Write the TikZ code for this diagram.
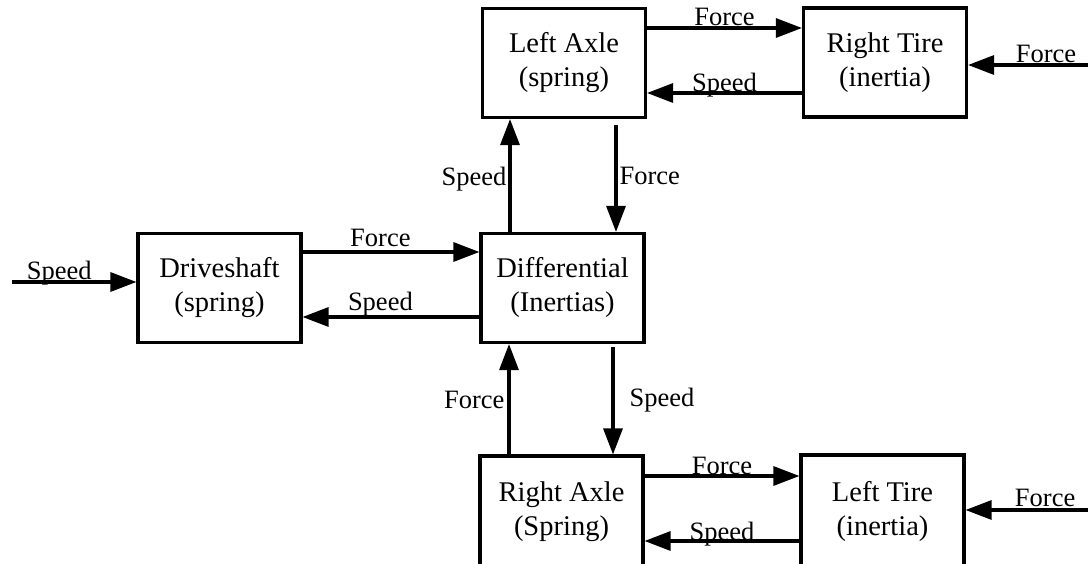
\documentclass[tikz,border=0pt]{standalone}
\usepackage{fontspec}
\setmainfont{Liberation Serif}
\usetikzlibrary{arrows.meta}
\begin{document}
\begin{tikzpicture}[x=1pt,y=-1pt,
  block/.style={draw, line width=3.1pt, minimum width=163pt, minimum height=109pt,
    align=center, inner sep=0pt, font=\fontsize{28.5}{34}\selectfont},
  flow/.style={line width=3.1pt, -{Triangle[length=26pt,width=19pt]}},
  lbl/.style={font=\fontsize{26.5}{30}\selectfont, inner sep=0pt}]
\useasboundingbox (0,0) rectangle (1088,564);
\clip (0,0) rectangle (1088,564);

% blocks
\node[block] (LA) at (564,63)    {Left Axle\\(spring)};
\node[block] (RT) at (885,62.5)  {Right Tire\\(inertia)};
\node[block] (DS) at (219.5,288) {Driveshaft\\(spring)};
\node[block] (DF) at (562.5,288) {Differential\\(Inertias)};
\node[block, minimum height=112pt] (RA) at (561.5,512) {Right Axle\\(Spring)};
\node[block, minimum height=112pt] (LT) at (882.5,511) {Left Tire\\(inertia)};

% free ends of the external inputs
\coordinate (inS) at (12,282);
\coordinate (inRT) at (1088,65);
\coordinate (inLT) at (1088,510);

% driveshaft loop
\draw[flow] (inS) -- node[lbl, anchor=base, pos=0.38, yshift=2pt] {Speed} (DS.west |- inS);
\draw[flow] (DS.east |- 0,252) -- node[lbl, anchor=base, pos=0.44, yshift=5pt] {Force} (DF.west |- 0,252);
\draw[flow] (DF.west |- 0,317) -- node[lbl, anchor=base, pos=0.56, yshift=6pt] {Speed} (DS.east |- 0,317);

% differential <-> left axle
\draw[flow] (DF.north -| 510,0) -- node[lbl, anchor=base east, pos=0.41, xshift=-2pt] {Speed} (LA.south -| 510,0);
\draw[flow] (616,125) -- node[lbl, anchor=base west, pos=0.56, xshift=2pt] {Force} (DF.north -| 616,0);

% differential <-> right axle
\draw[flow] (RA.north -| 509,0) -- node[lbl, anchor=base east, pos=0.42, xshift=-3pt] {Force} (DF.south -| 509,0);
\draw[flow] (613,347) -- node[lbl, anchor=base west, pos=0.55, xshift=15pt] {Speed} (RA.north -| 613,0);

% left axle <-> right tire
\draw[flow] (LA.east |- 0,28) -- node[lbl, anchor=base, yshift=2pt] {Force} (RT.west |- 0,28);
\draw[flow] (RT.west |- 0,93) -- node[lbl, anchor=base, yshift=1pt] {Speed} (LA.east |- 0,93);
\draw[flow] (inRT) -- node[lbl, anchor=base, pos=0.35, yshift=2pt] {Force} (RT.east |- inRT);

% right axle <-> left tire
\draw[flow] (RA.east |- 0,476) -- node[lbl, anchor=base, yshift=2pt] {Force} (LT.west |- 0,476);
\draw[flow] (LT.west |- 0,541) -- node[lbl, anchor=base, yshift=1pt] {Speed} (RA.east |- 0,541);
\draw[flow] (inLT) -- node[lbl, anchor=base, pos=0.35, yshift=4pt] {Force} (LT.east |- inLT);
\end{tikzpicture}
\end{document}
